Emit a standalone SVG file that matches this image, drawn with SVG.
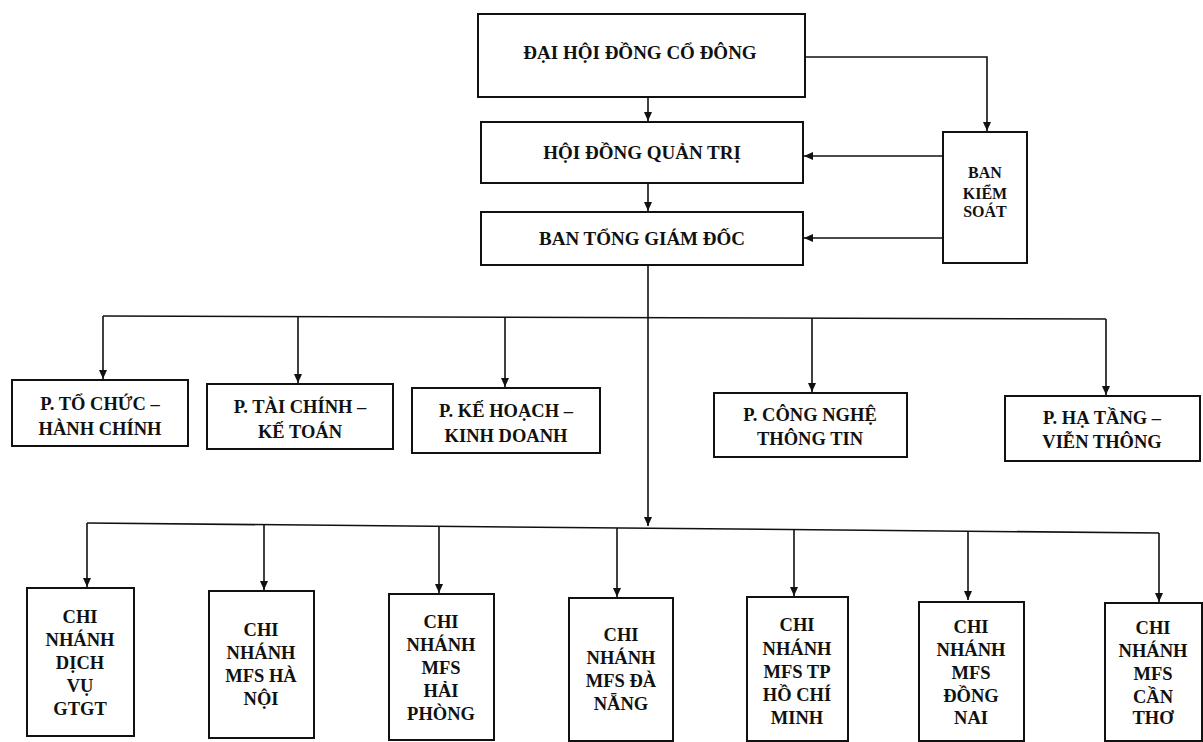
<svg xmlns="http://www.w3.org/2000/svg" width="1203" height="742" viewBox="0 0 1203 742">
<style>
.box{fill:#fff;stroke:#111;stroke-width:2}
.t{font-family:"Liberation Serif","DejaVu Serif",serif;font-weight:bold;fill:#111;text-anchor:middle}
.top{font-size:19px}
.d{font-size:18.5px}
.b{font-size:18.5px}
.k{font-size:16px}
.c{fill:none;stroke:#111;stroke-width:1.6}
</style>
<defs>
<marker id="ah" markerUnits="userSpaceOnUse" markerWidth="10" markerHeight="10" refX="9" refY="4" orient="auto">
<path d="M0,0 L9,4 L0,8 z" fill="#111"/>
</marker>
</defs>
<rect width="1203" height="742" fill="#fff"/>
<g id="connectors">
<line class="c" x1="648" y1="97" x2="648" y2="121" marker-end="url(#ah)"/>
<line class="c" x1="648" y1="183" x2="648" y2="211" marker-end="url(#ah)"/>
<polyline class="c" points="805,57 987,57 987,131" marker-end="url(#ah)"/>
<line class="c" x1="943" y1="156" x2="804" y2="156" marker-end="url(#ah)"/>
<line class="c" x1="943" y1="238" x2="804" y2="238" marker-end="url(#ah)"/>
<line class="c" x1="648" y1="265" x2="648" y2="526" marker-end="url(#ah)"/>
<line class="c" x1="103" y1="316" x2="1106" y2="319"/>
<line class="c" x1="103" y1="316" x2="103" y2="379" marker-end="url(#ah)"/>
<line class="c" x1="298" y1="317" x2="298" y2="383" marker-end="url(#ah)"/>
<line class="c" x1="505" y1="317" x2="505" y2="387" marker-end="url(#ah)"/>
<line class="c" x1="812" y1="318" x2="812" y2="392" marker-end="url(#ah)"/>
<line class="c" x1="1106" y1="319" x2="1106" y2="395" marker-end="url(#ah)"/>
<line class="c" x1="87" y1="523" x2="1159" y2="533"/>
<line class="c" x1="87" y1="523" x2="87" y2="587" marker-end="url(#ah)"/>
<line class="c" x1="264" y1="525" x2="264" y2="590" marker-end="url(#ah)"/>
<line class="c" x1="439" y1="527" x2="439" y2="593" marker-end="url(#ah)"/>
<line class="c" x1="617" y1="528" x2="617" y2="597" marker-end="url(#ah)"/>
<line class="c" x1="794" y1="530" x2="794" y2="596" marker-end="url(#ah)"/>
<line class="c" x1="968" y1="531" x2="968" y2="600" marker-end="url(#ah)"/>
<line class="c" x1="1159" y1="533" x2="1159" y2="602" marker-end="url(#ah)"/>
</g>
<g id="dhdcd"><rect class="box" x="478" y="14" width="327" height="83"/><text class="t top" x="640" y="59">ĐẠI HỘI ĐỒNG CỔ ĐÔNG</text></g>
<g id="hdqt"><rect class="box" x="481" y="122" width="322" height="61"/><text class="t top" x="642" y="159">HỘI ĐỒNG QUẢN TRỊ</text></g>
<g id="btgd"><rect class="box" x="481" y="212" width="322" height="53"/><text class="t top" x="642" y="245">BAN TỔNG GIÁM ĐỐC</text></g>
<g id="bks"><rect class="box" x="943" y="132" width="84" height="131"/><text class="t k" x="985"><tspan x="985" y="178">BAN</tspan><tspan x="985" y="199">KIỂM</tspan><tspan x="985" y="217">SOÁT</tspan></text></g>
<g id="p-tcch"><rect class="box" x="12" y="380" width="176" height="66"/><text class="t d"><tspan x="100" y="410">P. TỔ CHỨC –</tspan><tspan x="100" y="435">HÀNH CHÍNH</tspan></text></g>
<g id="p-tckt"><rect class="box" x="207" y="384" width="186" height="65"/><text class="t d"><tspan x="300" y="413">P. TÀI CHÍNH –</tspan><tspan x="300" y="438">KẾ TOÁN</tspan></text></g>
<g id="p-khkd"><rect class="box" x="412" y="388" width="188" height="65"/><text class="t d"><tspan x="506" y="417">P. KẾ HOẠCH –</tspan><tspan x="506" y="442">KINH DOANH</tspan></text></g>
<g id="p-cntt"><rect class="box" x="714" y="393" width="193" height="64"/><text class="t d"><tspan x="810" y="421">P. CÔNG NGHỆ</tspan><tspan x="810" y="445">THÔNG TIN</tspan></text></g>
<g id="p-htvt"><rect class="box" x="1005" y="396" width="195" height="65"/><text class="t d"><tspan x="1102" y="424">P. HẠ TẦNG –</tspan><tspan x="1102" y="448">VIỄN THÔNG</tspan></text></g>
<g id="cn-gtgt"><rect class="box" x="27" y="588" width="107" height="148"/><text class="t b"><tspan x="80" y="623">CHI</tspan><tspan x="80" y="646">NHÁNH</tspan><tspan x="80" y="669">DỊCH</tspan><tspan x="80" y="692">VỤ</tspan><tspan x="80" y="715">GTGT</tspan></text></g>
<g id="cn-hn"><rect class="box" x="209" y="591" width="105" height="147"/><text class="t b"><tspan x="261" y="636">CHI</tspan><tspan x="261" y="659">NHÁNH</tspan><tspan x="261" y="682">MFS HÀ</tspan><tspan x="261" y="705">NỘI</tspan></text></g>
<g id="cn-hp"><rect class="box" x="389" y="594" width="105" height="146"/><text class="t b"><tspan x="441" y="628">CHI</tspan><tspan x="441" y="651">NHÁNH</tspan><tspan x="441" y="674">MFS</tspan><tspan x="441" y="697">HẢI</tspan><tspan x="441" y="720">PHÒNG</tspan></text></g>
<g id="cn-dn"><rect class="box" x="569" y="598" width="104" height="143"/><text class="t b"><tspan x="621" y="641">CHI</tspan><tspan x="621" y="664">NHÁNH</tspan><tspan x="621" y="687">MFS ĐÀ</tspan><tspan x="621" y="710">NẴNG</tspan></text></g>
<g id="cn-hcm"><rect class="box" x="747" y="597" width="101" height="144"/><text class="t b"><tspan x="797" y="631">CHI</tspan><tspan x="797" y="655">NHÁNH</tspan><tspan x="797" y="678">MFS TP</tspan><tspan x="797" y="701">HỒ CHÍ</tspan><tspan x="797" y="724">MINH</tspan></text></g>
<g id="cn-dnai"><rect class="box" x="919" y="602" width="105" height="139"/><text class="t b"><tspan x="971" y="633">CHI</tspan><tspan x="971" y="656">NHÁNH</tspan><tspan x="971" y="679">MFS</tspan><tspan x="971" y="702">ĐỒNG</tspan><tspan x="971" y="724">NAI</tspan></text></g>
<g id="cn-ct"><rect class="box" x="1105" y="603" width="97" height="138"/><text class="t b"><tspan x="1153" y="634">CHI</tspan><tspan x="1153" y="657">NHÁNH</tspan><tspan x="1153" y="680">MFS</tspan><tspan x="1153" y="703">CẦN</tspan><tspan x="1153" y="724">THƠ</tspan></text></g>
</svg>
